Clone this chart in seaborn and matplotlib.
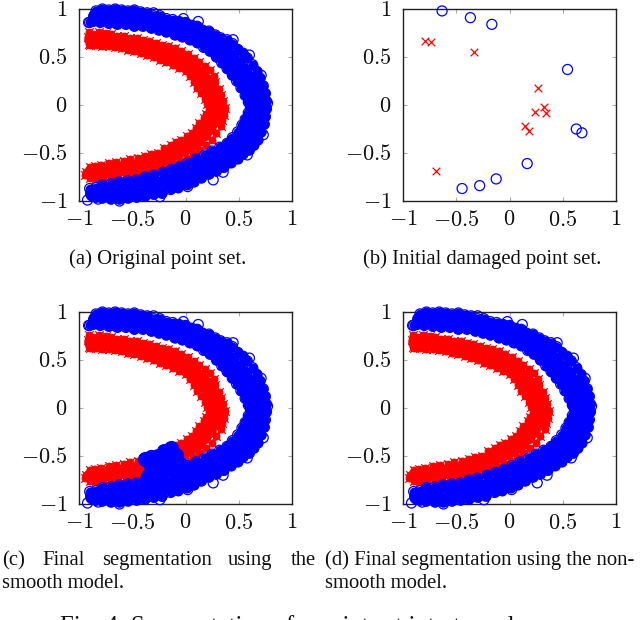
import numpy as np
import pandas as pd
import matplotlib
matplotlib.use("Agg")
import matplotlib.pyplot as plt
import seaborn as sns

sns.set_theme(style="white")
plt.rcParams["font.family"] = ["Liberation Serif", "DejaVu Serif"]
plt.rcParams["mathtext.fontset"] = "cm"

ticks = [-1, -0.5, 0, 0.5, 1]
tick_labels = ["$-1$", "$-0.5$", "$0$", "$0.5$", "$1$"]

# outer blue class
blue_outer = [(-.90,.86),(-.86,.93),(-.84,.98),(-.78,1.0),(-.72,.99),(-.66,1.0),(-.60,.99),(-.54,.98),
    (-.48,.99),(-.42,.97),(-.36,.96),(-.30,.93),(-.24,.93),(-.18,.90),(-.12,.89),(-.06,.87),(0,.86),
    (.06,.83),(.11,.82),(.16,.78),(.22,.77),(.28,.73),(.33,.70),(.39,.68),(.44,.64),(.49,.58),(.54,.54),
    (.58,.49),(.63,.42),(.67,.35),(.70,.28),(.73,.20),(.75,.12),(.76,.04),(.76,-.04),(.75,-.12),(.74,-.20),
    (.71,-.28),(.68,-.36),(.64,-.42),(.60,-.47),(.54,-.51),(.49,-.56),(.43,-.60),(.36,-.65),(.29,-.69),
    (.22,-.72),(.15,-.76),(.08,-.80),(.01,-.83),(-.07,-.86),(-.14,-.88),(-.22,-.92),(-.30,-.93),(-.38,-.95),
    (-.46,-.96),(-.54,-.97),(-.62,-.98),(-.70,-.98),(-.78,-.97),(-.84,-.96),(-.88,-.92),(-.90,-.87)]
blue_inner = [(-.87,.87),(-.80,.86),(-.72,.85),(-.64,.84),(-.56,.84),(-.48,.82),(-.40,.82),(-.32,.80),(-.25,.78),
    (-.18,.76),(-.10,.73),(-.03,.71),(.04,.68),(.11,.65),(.17,.60),(.23,.56),(.29,.50),(.34,.44),(.39,.38),
    (.44,.31),(.48,.25),(.52,.18),(.56,.10),(.59,.03),(.61,-.02),(.59,-.08),(.56,-.15),(.53,-.21),(.49,-.28),
    (.44,-.34),(.39,-.40),(.32,-.44),(.25,-.48),(.18,-.52),(.10,-.56),(.02,-.60),(-.05,-.64),(-.13,-.67),
    (-.21,-.70),(-.30,-.73),(-.38,-.75),(-.46,-.78),(-.54,-.79),(-.62,-.80),(-.70,-.82),(-.78,-.83),(-.84,-.86)]
blue_core = [(-.84,.92),(-.76,.92),(-.68,.92),(-.60,.91),(-.52,.91),(-.44,.90),(-.36,.88),(-.28,.86),(-.20,.83),
    (-.12,.81),(-.04,.78),(.04,.75),(.12,.72),(.20,.67),(.28,.61),(.35,.56),(.42,.50),(.48,.42),(.54,.35),
    (.59,.27),(.63,.19),(.66,.10),(.68,.02),(.68,-.06),(.66,-.14),(.63,-.22),(.59,-.30),(.54,-.37),(.47,-.44),
    (.39,-.50),(.31,-.55),(.23,-.60),(.15,-.65),(.07,-.69),(-.01,-.73),(-.09,-.77),(-.17,-.80),(-.25,-.83),
    (-.33,-.85),(-.41,-.87),(-.49,-.88),(-.57,-.89),(-.65,-.90),(-.73,-.91),(-.81,-.91),(-.87,-.92)]
# rings that stick out of the band
blue_stray = [(.12,.87),(.447,.68),(-.91,.86),(-.92,-.99),(.353,-.70),(.26,-.78),(.73,-.31),(.71,.31),(-.24,-.955),
    (-.02,.90),(-.30,.96),(.60,.52),(.58,-.52),(.77,.02),(.02,-.85),(-.62,-1.0),(-.82,-.98)]

# inner red class
red_outer = [(-.91,.76),(-.92,.71),(-.91,.64),(-.87,.74),(-.81,.76),(-.75,.75),(-.70,.74),(-.64,.72),(-.58,.72),
    (-.52,.70),(-.46,.70),(-.40,.68),(-.34,.67),(-.28,.65),(-.22,.63),(-.16,.61),(-.10,.59),(-.04,.56),(.02,.53),
    (.08,.49),(.13,.45),(.18,.41),(.23,.36),(.27,.30),(.28,.24),(.31,.17),(.33,.10),(.35,.04),(.37,-.03),(.36,-.10),
    (.34,-.16),(.33,-.22),(.29,-.29),(.25,-.36),(.19,-.42),(.13,-.47),(.07,-.51),(.01,-.55),(-.05,-.58),(-.11,-.61),
    (-.17,-.64),(-.23,-.66),(-.29,-.69),(-.35,-.71),(-.42,-.72),(-.49,-.74),(-.56,-.75),(-.63,-.76),(-.70,-.76),
    (-.77,-.77),(-.84,-.76),(-.90,-.76),(-.94,-.73)]
red_inner = [(-.90,.62),(-.84,.62),(-.78,.61),(-.72,.61),(-.66,.60),(-.60,.59),(-.54,.57),(-.48,.56),(-.42,.54),
    (-.36,.52),(-.30,.50),(-.24,.47),(-.18,.45),(-.12,.42),(-.06,.39),(0,.35),(.04,.30),(.08,.24),(.11,.18),(.15,.12),
    (.18,.06),(.20,.01),(.22,-.04),(.19,-.09),(.17,-.14),(.13,-.19),(.10,-.24),(.06,-.29),(.01,-.32),(-.04,-.36),
    (-.09,-.39),(-.14,-.42),(-.20,-.45),(-.26,-.50),(-.32,-.51),(-.38,-.53),(-.45,-.55),(-.52,-.56),(-.58,-.58),
    (-.65,-.59),(-.72,-.60),(-.79,-.62),(-.85,-.64),(-.90,-.65),(-.93,-.70)]
red_core = [(-.88,.69),(-.80,.69),(-.72,.68),(-.64,.66),(-.56,.65),(-.48,.63),(-.40,.61),(-.32,.58),(-.24,.55),
    (-.16,.52),(-.08,.48),(0,.44),(.07,.38),(.13,.32),(.18,.25),(.22,.18),(.25,.11),(.27,.04),(.29,-.03),(.27,-.10),
    (.25,-.16),(.21,-.23),(.16,-.29),(.11,-.35),(.05,-.40),(-.02,-.45),(-.09,-.49),(-.16,-.53),(-.24,-.57),(-.32,-.60),
    (-.40,-.63),(-.48,-.65),(-.56,-.66),(-.64,-.67),(-.72,-.68),(-.80,-.69),(-.88,-.70)]

# panel (b) sparse points
damaged_blue = [(-.633,.98),(-.367,.91),(-.166,.84),(.545,.37),(.627,-.25),(.68,-.29),(.166,-.61),(-.125,-.77),(-.28,-.84),(-.445,-.87)]
damaged_red = [(-.796,.667),(-.734,.653),(-.33,.55),(.266,.177),(.32,-.017),(.238,-.073),(.342,-.08),(.15,-.215),(.18,-.27),(-.687,-.69)]

W, H = 640, 620
RING = 52
CORE = 150
EDGE_FILL = 50
RED_CORE = 140
RED_EDGE = 32
MOVED = 120
CROSS = 30
BAND_CROSS = 38


def make_axes(left, top, right, bottom):
    ax = fig.add_axes([left / W, 1 - bottom / H, (right - left) / W, (bottom - top) / H])
    ax.set_xlim(-1, 1)
    ax.set_ylim(-1, 1)
    ax.set_xticks(ticks, tick_labels)
    ax.set_yticks(ticks, tick_labels)
    ax.tick_params(direction="in", length=3.2, width=0.8, color="#aaaaaa", top=True, right=True,
                   bottom=True, left=True, labelsize=16, labelcolor="#111111")
    ax.tick_params(axis="x", pad=7)
    ax.tick_params(axis="y", pad=8.5)
    for s in ax.spines.values():
        s.set_visible(True)
        s.set_color("#222222")
        s.set_linewidth(1.0)
    return ax


def rings(ax, pts, size=RING):
    d = pd.DataFrame(pts, columns=["x", "y"])
    sns.scatterplot(data=d, x="x", y="y", marker="o", s=size, facecolor="none", edgecolor="#0000ff",
                    linewidth=0.9, clip_on=False, zorder=3, ax=ax)


def discs(ax, pts, color, size):
    d = pd.DataFrame(pts, columns=["x", "y"])
    sns.scatterplot(data=d, x="x", y="y", marker="o", s=size, color=color, linewidth=0,
                    clip_on=False, zorder=3, ax=ax)


def crosses(ax, pts, size=CROSS):
    d = pd.DataFrame(pts, columns=["x", "y"])
    sns.scatterplot(data=d, x="x", y="y", marker="x", s=size, color="#ff0000", linewidth=0.9,
                    clip_on=False, zorder=3, ax=ax)


def mislabelled(p):
    # red points that the smooth model moved to the blue class
    x, y = p
    return y < -0.3 and x > -0.40 and x < -0.13 + (-0.40 - y) * 0.45


def draw_full(ax, r_outer, r_inner, r_core, b_extra=()):
    discs(ax, r_core, "#ff0000", RED_CORE)
    discs(ax, r_outer, "#ff0000", RED_EDGE)
    discs(ax, r_inner, "#ff0000", RED_EDGE)
    crosses(ax, r_outer, BAND_CROSS)
    crosses(ax, r_inner, BAND_CROSS)
    discs(ax, blue_core, "#0000ff", CORE)
    discs(ax, blue_outer, "#0000ff", EDGE_FILL)
    discs(ax, blue_inner, "#0000ff", EDGE_FILL)
    rings(ax, blue_outer)
    rings(ax, blue_inner)
    rings(ax, blue_stray)
    if len(b_extra):
        discs(ax, b_extra, "#0000ff", MOVED)
    ax.set_xlabel("")
    ax.set_ylabel("")


fig = plt.figure(figsize=(W / 100, H / 100), dpi=100, facecolor="white")

ax_a = make_axes(79, 9, 292, 201)
draw_full(ax_a, red_outer, red_inner, red_core)

ax_b = make_axes(403, 9, 616, 201)
crosses(ax_b, damaged_red)
rings(ax_b, damaged_blue)
ax_b.set_xlabel("")
ax_b.set_ylabel("")

moved = [p for p in red_outer + red_inner + red_core if mislabelled(p)]
ax_c = make_axes(79, 312, 292, 504)
draw_full(ax_c, [p for p in red_outer if not mislabelled(p)], [p for p in red_inner if not mislabelled(p)],
          [p for p in red_core if not mislabelled(p)], moved)

ax_d = make_axes(403, 312, 616, 504)
draw_full(ax_d, red_outer, red_inner, red_core)


def caption(x, y, s, ha="left", size=14.9):
    fig.text(x / W, 1 - y / H, s, ha=ha, va="baseline", fontsize=size, color="#111111")


caption(158, 264, "(a) Original point set.", ha="center")
caption(482, 264, "(b) Initial damaged point set.", ha="center")
# justified first line of (c)
for x, word in zip([2, 42, 102, 228, 291], ["(c)", "Final", "segmentation", "using", "the"]):
    caption(x, 565, word)
caption(2, 588, "smooth model.")
caption(325, 565, "(d) Final segmentation using the non-")
caption(325, 588, "smooth model.")
# the reference crops this line at the bottom edge
caption(60, 633, "Fig. 4: Segmentation of a point set into two classes.", size=17.8)

fig.savefig("out.png", dpi=100)
